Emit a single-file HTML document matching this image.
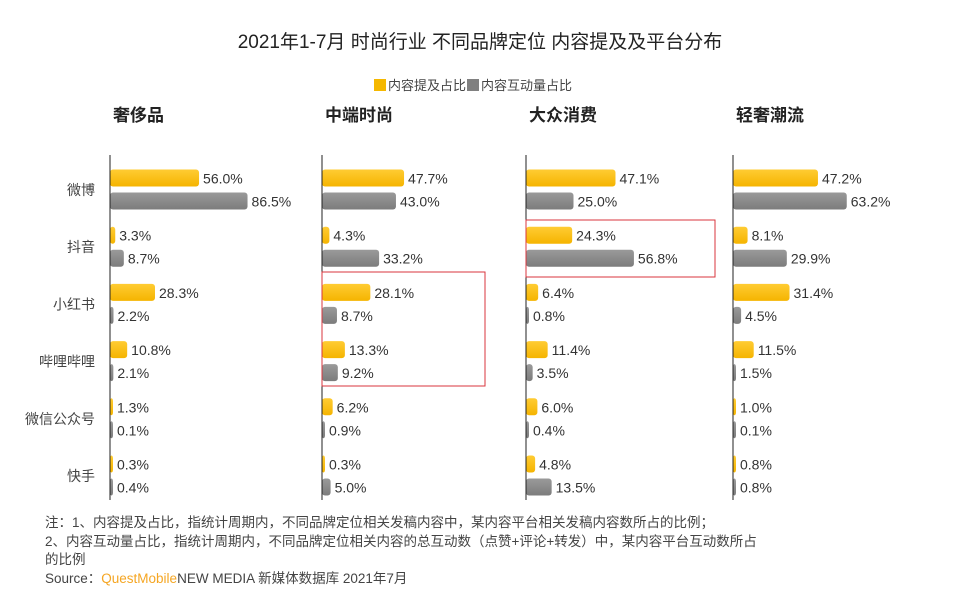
<!DOCTYPE html>
<html><head><meta charset="utf-8"><style>
body{margin:0;background:#fff;}
svg text{font-family:"Liberation Sans","Noto Sans CJK SC",sans-serif;}
</style></head><body>
<svg width="960" height="602" viewBox="0 0 960 602" xmlns="http://www.w3.org/2000/svg">
<defs>
<linearGradient id="gy" x1="0" y1="0" x2="0" y2="1"><stop offset="0" stop-color="#ffcc33"/><stop offset="1" stop-color="#f5b400"/></linearGradient>
<linearGradient id="gg" x1="0" y1="0" x2="0" y2="1"><stop offset="0" stop-color="#9a9a9a"/><stop offset="1" stop-color="#7c7c7c"/></linearGradient>
</defs>
<rect width="960" height="602" fill="#fff"/>
<text x="480" y="48" text-anchor="middle" font-size="19" fill="#222">2021年1-7月 时尚行业 不同品牌定位 内容提及及平台分布</text>
<g>
<rect x="374" y="79" width="12" height="12" fill="#f5b800"/>
<text x="388" y="90" font-size="13" fill="#444">内容提及占比</text>
<rect x="467" y="79" width="12" height="12" fill="#808080"/>
<text x="481" y="90" font-size="13" fill="#444">内容互动量占比</text>
</g>
<g id="plots"></g>
<rect x="322" y="272" width="163" height="114" fill="none" stroke="#d9363e" stroke-width="1"/>
<rect x="526" y="220" width="189" height="57" fill="none" stroke="#d9363e" stroke-width="1"/>
<g font-size="13.5" fill="#444">
<text x="45" y="527">注：1、内容提及占比，指统计周期内，不同品牌定位相关发稿内容中，某内容平台相关发稿内容数所占的比例；</text>
<text x="45" y="546">2、内容互动量占比，指统计周期内，不同品牌定位相关内容的总互动数（点赞+评论+转发）中，某内容平台互动数所占</text>
<text x="45" y="564">的比例</text>
<text x="45" y="583">Source：<tspan fill="#f5a623">QuestMobile</tspan>NEW MEDIA 新媒体数据库 2021年7月</text>
</g>
</svg>
<script>
const platforms=["微博","抖音","小红书","哔哩哔哩","微信公众号","快手"];
const segments=["奢侈品","中端时尚","大众消费","轻奢潮流"];
const mention=[[56.0,3.3,28.3,10.8,1.3,0.3],[47.7,4.3,28.1,13.3,6.2,0.3],[47.1,24.3,6.4,11.4,6.0,4.8],[47.2,8.1,31.4,11.5,1.0,0.8]];
const interaction=[[86.5,8.7,2.2,2.1,0.1,0.4],[43.0,33.2,8.7,9.2,0.9,5.0],[25.0,56.8,0.8,3.5,0.4,13.5],[63.2,29.9,4.5,1.5,0.1,0.8]];
const ns="http://www.w3.org/2000/svg";
const g=document.getElementById("plots");
const axisX=[110,322,526,733];
const scale=[1.59,1.72,1.9,1.8];
function mk(t,a){const e=document.createElementNS(ns,t);for(const k in a)e.setAttribute(k,a[k]);return e;}
function yOf(i){return 190+i*57.2;}
platforms.forEach((p,i)=>{
 const t=mk("text",{x:95,y:yOf(i)+5,"text-anchor":"end","font-size":"14",fill:"#444"});
 t.textContent=p;
 
 
 g.appendChild(t);
});
segments.forEach((s,k)=>{
 const x0=axisX[k];
 const h=mk("text",{x:x0+3,y:121,"font-size":"17","font-weight":"bold",fill:"#222"});
 h.textContent=s;
 
 
 g.appendChild(h);
 platforms.forEach((p,i)=>{
  [[mention[k][i],"url(#gy)",-12],[interaction[k][i],"url(#gg)",11]].forEach(([v,fill,dy])=>{
   const w=Math.max(v*scale[k],3);
   const y=yOf(i)+dy-8.5;
   const r=mk("rect",{x:x0,y:y,width:w,height:17,rx:3,fill:fill});
   
   
   g.appendChild(r);
   const l=mk("text",{x:x0+w+4,y:y+14,"font-size":"14",fill:"#333"});
   l.textContent=v.toFixed(1)+"%";
   
   
   g.appendChild(l);
  });
 });
 const ax=mk("line",{x1:x0,y1:155,x2:x0,y2:500,stroke:"#222","stroke-width":1});
 
 
 g.appendChild(ax);
});
</script>
</body></html>
